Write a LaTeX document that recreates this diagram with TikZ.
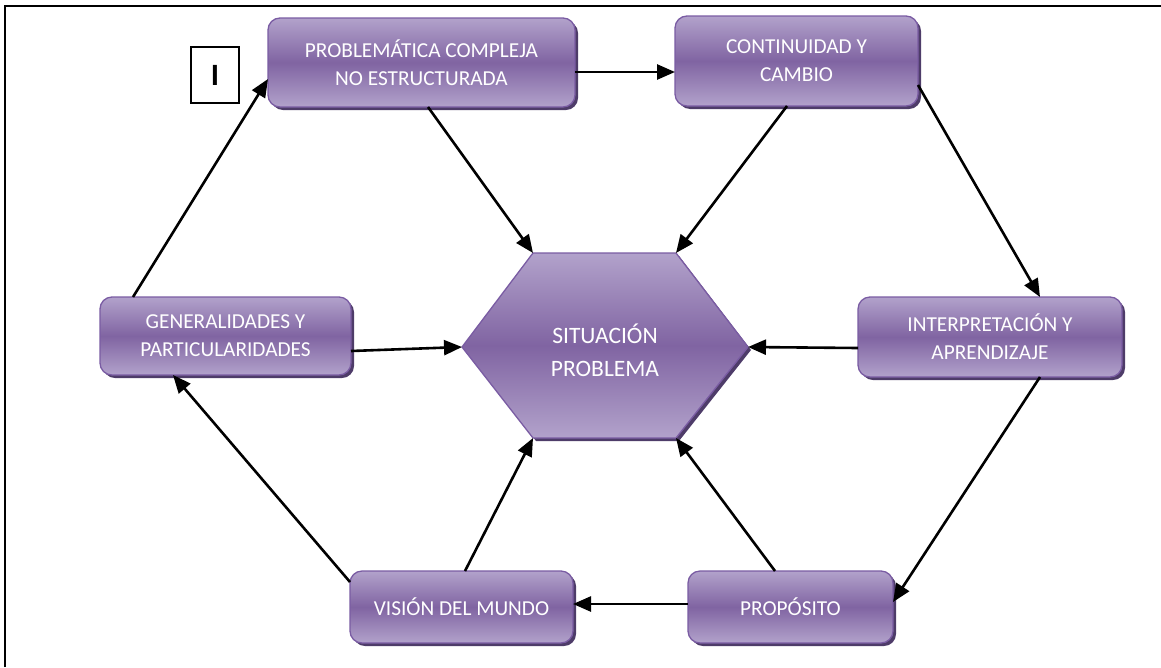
\documentclass[tikz,border=0pt]{standalone}
\usepackage{fontspec}
\setmainfont{Carlito}
\usetikzlibrary{arrows.meta,shadows,calc}

\definecolor{lav}{HTML}{B2A2CB}
\definecolor{plum}{HTML}{8064A2}
\definecolor{edgecol}{HTML}{7A5CA3}
\definecolor{shadowcol}{HTML}{4E3C69}

\tikzset{
  stage/.style={rounded corners=12pt, draw=edgecol, line width=1.3pt,
    top color=lav, bottom color=lav, middle color=plum,
    drop shadow={shadow xshift=3pt, shadow yshift=-3pt, fill=shadowcol, opacity=1},
    text=white, align=center, inner sep=0pt, outer sep=0pt,
    font=\fontsize{21.3}{28}\selectfont},
  link/.style={line width=2.6pt, -{Triangle[length=18pt,width=15pt]}},
}

\begin{document}
\begin{tikzpicture}[x=1pt,y=-1pt]
\useasboundingbox (0,0) rectangle (1161,667);

% page frame (top and left rules)
\draw[line width=2pt] (5,667) -- (5,6) -- (1161,6);

% label box
\node[draw, line width=1.5pt, minimum width=48pt, minimum height=56pt,
      inner sep=0pt, font=\fontsize{31}{31}\bfseries\selectfont] (lbl) at (215,75) {I};

% outer stages
\node[stage, minimum width=307pt, minimum height=89pt] (prob) at (421.5,62.5)
  {PROBLEMÁTICA COMPLEJA\\NO ESTRUCTURADA};
\node[stage, minimum width=243pt, minimum height=90pt] (cont) at (796.5,61)
  {CONTINUIDAD Y\\CAMBIO};
\node[stage, minimum width=251pt, minimum height=78pt] (gen) at (225.5,336)
  {GENERALIDADES Y\\PARTICULARIDADES};
\node[stage, minimum width=264pt, minimum height=80pt] (inter) at (990,337)
  {INTERPRETACIÓN Y\\APRENDIZAJE};
\node[stage, minimum width=223pt, minimum height=72pt] (vis) at (461.5,607)
  {VISIÓN DEL MUNDO};
\node[stage, minimum width=205pt, minimum height=72pt] (prop) at (790.5,607)
  {PROPÓSITO};

% central hexagon
\coordinate (hnw) at (533,253);
\coordinate (hne) at (676,253);
\coordinate (he)  at (748,347);
\coordinate (hse) at (676,438);
\coordinate (hsw) at (533,438);
\coordinate (hw)  at (462,347);
\fill[shadowcol] ($(hnw)+(3,3)$) -- ($(hne)+(3,3)$) -- ($(he)+(3,3)$) -- ($(hse)+(3,3)$)
  -- ($(hsw)+(3,3)$) -- ($(hw)+(3,3)$) -- cycle;
\path[draw=edgecol, line width=1.3pt, top color=lav, bottom color=lav, middle color=plum]
  (hnw) -- (hne) -- (he) -- (hse) -- (hsw) -- (hw) -- cycle;
\node[text=white, align=center, font=\fontsize{23.5}{33}\selectfont] (sit) at (605,350)
  {SITUACIÓN\\PROBLEMA};

% cycle of stages
\draw[link] (gen.north -| 133,0) -- (prob.west |- 0,79);
\draw[link] (prob.east |- 0,72) -- (cont.west |- 0,72);
\draw[link] (cont.east |- 0,85) -- (inter.north -| 1040,0);
\draw[link] (inter.south -| 1040,0) -- (prop.east |- 0,602);
\draw[link] (prop.west |- 0,604) -- (vis.east |- 0,604);
\draw[link] (vis.west |- 0,582) -- (gen.south -| 173,0);

% links into the centre
\draw[link] (prob.south -| 428,0) -- (hnw);
\draw[link] (cont.south -| 787,0) -- (hne);
\draw[link] (gen.east |- 0,351) -- (hw);
\draw[link] (inter.west |- 0,348) -- (he);
\draw[link] (vis.north -| 465,0) -- (hsw);
\draw[link] (prop.north -| 775,0) -- (hse);
\end{tikzpicture}
\end{document}
